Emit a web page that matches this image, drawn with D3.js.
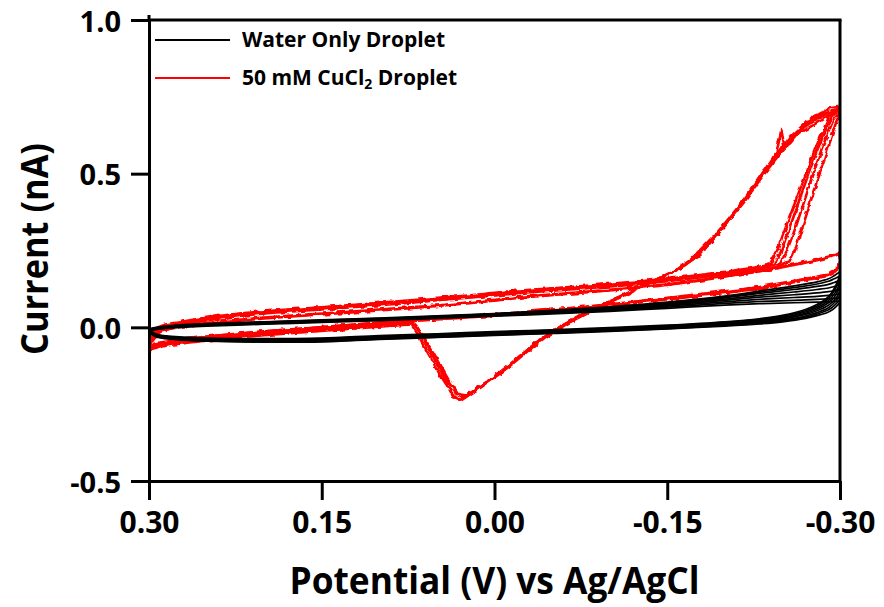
<!DOCTYPE html>
<html>
<head>
<meta charset="utf-8">
<script src="https://cdn.jsdelivr.net/npm/d3@7"></script>
<style>
  html, body { margin: 0; padding: 0; background: #fff; }
  svg { display: block; }
  text { font-family: "Open Sans", "Noto Sans", sans-serif; font-weight: 700; fill: #000; }
</style>
</head>
<body>
<svg id="chart" width="884" height="607"></svg>
<script>
// Cyclic voltammograms of a droplet: water only vs. 50 mM CuCl2.

const xTicks = [0.30, 0.15, 0.00, -0.15, -0.30];
const yTicks = [-0.5, 0.0, 0.5, 1.0];
const seriesNames = ["Water Only Droplet", "50 mM CuCl\u2082 Droplet"];

// Water only: potential sweep (V) out to -0.30 V and back
const waterForwardPotential = [0.30, 0.295, 0.285, 0.27, 0.25, 0.20, 0.15, 0.10, 0.05, 0.00, -0.05, -0.10, -0.15, -0.20, -0.23, -0.25, -0.27, -0.28, -0.29, -0.295, -0.30];
const waterReversePotential = [-0.30, -0.295, -0.29, -0.28, -0.26, -0.23, -0.20, -0.15, -0.10, -0.05, 0.00, 0.05, 0.10, 0.15, 0.20, 0.25, 0.28, 0.295, 0.30];

// Water only: current (nA) for each cycle, forward then reverse
const waterForwardCurrent = [
  [-0.006, -0.020, -0.028, -0.032, -0.035, -0.037, -0.035, -0.027, -0.021, -0.014, -0.008, -0.001, 0.007, 0.018, 0.028, 0.039, 0.058, 0.074, 0.100, 0.127, 0.175],
  [-0.008, -0.022, -0.030, -0.034, -0.037, -0.039, -0.037, -0.029, -0.023, -0.016, -0.010, -0.003, 0.005, 0.016, 0.026, 0.036, 0.054, 0.069, 0.094, 0.119, 0.162],
  [-0.010, -0.024, -0.031, -0.036, -0.039, -0.041, -0.039, -0.031, -0.025, -0.018, -0.012, -0.005, 0.003, 0.013, 0.023, 0.033, 0.050, 0.064, 0.087, 0.108, 0.148],
  [-0.011, -0.025, -0.032, -0.037, -0.040, -0.042, -0.041, -0.032, -0.026, -0.019, -0.013, -0.006, 0.002, 0.012, 0.021, 0.030, 0.046, 0.059, 0.080, 0.098, 0.135],
  [-0.012, -0.026, -0.034, -0.039, -0.042, -0.044, -0.043, -0.034, -0.028, -0.021, -0.015, -0.008, 0.000, 0.010, 0.019, 0.027, 0.042, 0.054, 0.072, 0.088, 0.120],
  [-0.013, -0.027, -0.035, -0.040, -0.043, -0.046, -0.044, -0.036, -0.030, -0.023, -0.017, -0.010, -0.002, 0.008, 0.016, 0.024, 0.037, 0.048, 0.064, 0.080, 0.105],
  [-0.014, -0.028, -0.036, -0.041, -0.044, -0.047, -0.046, -0.038, -0.032, -0.025, -0.019, -0.012, -0.004, 0.006, 0.013, 0.021, 0.033, 0.043, 0.057, 0.071, 0.092],
  [-0.015, -0.029, -0.037, -0.042, -0.045, -0.048, -0.047, -0.039, -0.033, -0.026, -0.020, -0.013, -0.005, 0.004, 0.011, 0.018, 0.029, 0.038, 0.050, 0.062, 0.082]
];
const waterReverseCurrent = [
  [0.180, 0.168, 0.158, 0.148, 0.135, 0.118, 0.102, 0.082, 0.067, 0.055, 0.045, 0.037, 0.030, 0.024, 0.018, 0.012, 0.006, -0.001, -0.006],
  [0.166, 0.158, 0.150, 0.141, 0.129, 0.114, 0.099, 0.080, 0.065, 0.054, 0.044, 0.036, 0.029, 0.023, 0.017, 0.011, 0.005, -0.002, -0.008],
  [0.152, 0.146, 0.140, 0.133, 0.123, 0.110, 0.096, 0.078, 0.063, 0.052, 0.043, 0.035, 0.028, 0.022, 0.016, 0.010, 0.004, -0.003, -0.010],
  [0.138, 0.133, 0.128, 0.123, 0.115, 0.104, 0.092, 0.075, 0.061, 0.050, 0.041, 0.034, 0.027, 0.021, 0.015, 0.009, 0.003, -0.004, -0.011],
  [0.123, 0.119, 0.116, 0.112, 0.106, 0.098, 0.088, 0.072, 0.059, 0.049, 0.040, 0.033, 0.026, 0.020, 0.014, 0.008, 0.002, -0.005, -0.012],
  [0.108, 0.106, 0.104, 0.101, 0.097, 0.091, 0.083, 0.069, 0.057, 0.047, 0.039, 0.032, 0.025, 0.019, 0.013, 0.007, 0.001, -0.006, -0.013],
  [0.095, 0.094, 0.093, 0.091, 0.088, 0.084, 0.078, 0.066, 0.055, 0.046, 0.038, 0.031, 0.024, 0.018, 0.012, 0.006, 0.000, -0.007, -0.014],
  [0.085, 0.084, 0.083, 0.082, 0.080, 0.077, 0.072, 0.062, 0.052, 0.044, 0.036, 0.029, 0.022, 0.016, 0.010, 0.004, -0.002, -0.008, -0.015]
];

// 50 mM CuCl2: [potential (V), current (nA)] for each cycle
const copperCycle1 = [
  [0.300, -0.055], [0.297, -0.025], [0.292, -0.004], [0.285, 0.006], [0.275, 0.012], [0.260, 0.022], [0.240, 0.034], [0.220, 0.043],
  [0.200, 0.049], [0.180, 0.056], [0.160, 0.060], [0.130, 0.069], [0.100, 0.077], [0.070, 0.086], [0.047, 0.094], [0.020, 0.101],
  [0.000, 0.109], [-0.022, 0.117], [-0.050, 0.124], [-0.080, 0.132], [-0.118, 0.143], [-0.150, 0.155], [-0.178, 0.166], [-0.200, 0.177],
  [-0.222, 0.188], [-0.239, 0.205], [-0.245, 0.245], [-0.252, 0.316], [-0.265, 0.446], [-0.278, 0.576], [-0.291, 0.690], [-0.298, 0.713],
  [-0.300, 0.718], [-0.298, 0.717], [-0.291, 0.713], [-0.280, 0.690], [-0.271, 0.668], [-0.256, 0.616], [-0.243, 0.550], [-0.230, 0.486],
  [-0.213, 0.398], [-0.193, 0.307], [-0.170, 0.219], [-0.158, 0.186], [-0.138, 0.151], [-0.109, 0.099], [-0.080, 0.050], [-0.057, 0.001],
  [-0.039, -0.041], [-0.022, -0.094], [-0.005, -0.146], [0.008, -0.181], [0.021, -0.214], [0.027, -0.230], [0.034, -0.210], [0.045, -0.149],
  [0.056, -0.074], [0.065, -0.015], [0.071, 0.017], [0.090, 0.012], [0.120, 0.004], [0.150, -0.004], [0.180, -0.012], [0.210, -0.020],
  [0.240, -0.030], [0.265, -0.040], [0.285, -0.048], [0.300, -0.062]
];
const copperCycle2 = [
  [0.300, -0.060], [0.297, -0.030], [0.292, -0.008], [0.285, 0.004], [0.275, 0.010], [0.260, 0.019], [0.240, 0.030], [0.220, 0.040],
  [0.200, 0.047], [0.180, 0.053], [0.160, 0.058], [0.130, 0.066], [0.100, 0.074], [0.070, 0.083], [0.047, 0.091], [0.020, 0.099],
  [0.000, 0.106], [-0.022, 0.114], [-0.050, 0.121], [-0.080, 0.129], [-0.118, 0.140], [-0.150, 0.152], [-0.178, 0.163], [-0.200, 0.174],
  [-0.222, 0.186], [-0.242, 0.204], [-0.248, 0.240], [-0.256, 0.320], [-0.268, 0.450], [-0.280, 0.575], [-0.292, 0.680], [-0.298, 0.706],
  [-0.300, 0.712], [-0.297, 0.706], [-0.290, 0.696], [-0.279, 0.676], [-0.268, 0.650], [-0.257, 0.600], [-0.252, 0.585], [-0.249, 0.642],
  [-0.245, 0.570], [-0.236, 0.520], [-0.220, 0.430], [-0.200, 0.330], [-0.178, 0.236], [-0.160, 0.190], [-0.140, 0.155], [-0.112, 0.104],
  [-0.083, 0.055], [-0.060, 0.008], [-0.041, -0.036], [-0.024, -0.088], [-0.008, -0.140], [0.006, -0.176], [0.019, -0.210], [0.030, -0.236],
  [0.037, -0.214], [0.047, -0.156], [0.058, -0.082], [0.067, -0.020], [0.073, 0.014], [0.095, 0.008], [0.125, 0.000], [0.155, -0.008],
  [0.185, -0.016], [0.215, -0.025], [0.245, -0.036], [0.270, -0.046], [0.288, -0.055], [0.300, -0.070]
];
const copperCycle3 = [
  [0.300, -0.048], [0.297, -0.020], [0.292, 0.000], [0.285, 0.010], [0.275, 0.016], [0.260, 0.026], [0.240, 0.037], [0.220, 0.046],
  [0.200, 0.052], [0.180, 0.058], [0.160, 0.063], [0.130, 0.071], [0.100, 0.080], [0.070, 0.089], [0.047, 0.097], [0.020, 0.104],
  [0.000, 0.112], [-0.022, 0.120], [-0.050, 0.127], [-0.080, 0.135], [-0.118, 0.147], [-0.150, 0.158], [-0.178, 0.170], [-0.200, 0.181],
  [-0.222, 0.192], [-0.248, 0.208], [-0.254, 0.250], [-0.262, 0.330], [-0.273, 0.456], [-0.284, 0.580], [-0.294, 0.672], [-0.299, 0.698],
  [-0.300, 0.703], [-0.296, 0.700], [-0.286, 0.680], [-0.276, 0.656], [-0.266, 0.636], [-0.260, 0.628], [-0.250, 0.585], [-0.238, 0.522],
  [-0.222, 0.440], [-0.203, 0.345], [-0.182, 0.252], [-0.164, 0.198], [-0.146, 0.163], [-0.118, 0.112], [-0.088, 0.061], [-0.064, 0.014],
  [-0.045, -0.030], [-0.028, -0.080], [-0.012, -0.130], [0.003, -0.170], [0.016, -0.204], [0.024, -0.222], [0.031, -0.218], [0.040, -0.170],
  [0.050, -0.105], [0.060, -0.040], [0.068, 0.005], [0.074, 0.020], [0.100, 0.014], [0.130, 0.006], [0.160, -0.002], [0.190, -0.010],
  [0.220, -0.019], [0.250, -0.030], [0.275, -0.041], [0.292, -0.050], [0.300, -0.058]
];
const copperCycle4 = [
  [0.300, -0.066], [0.297, -0.034], [0.292, -0.012], [0.285, 0.002], [0.275, 0.008], [0.260, 0.017], [0.240, 0.028], [0.220, 0.038],
  [0.200, 0.045], [0.180, 0.051], [0.160, 0.056], [0.130, 0.064], [0.100, 0.072], [0.070, 0.081], [0.047, 0.089], [0.020, 0.097],
  [0.000, 0.104], [-0.022, 0.112], [-0.050, 0.119], [-0.080, 0.127], [-0.118, 0.138], [-0.150, 0.150], [-0.178, 0.162], [-0.200, 0.173],
  [-0.222, 0.184], [-0.244, 0.196], [-0.256, 0.214], [-0.262, 0.262], [-0.270, 0.356], [-0.280, 0.476], [-0.290, 0.588], [-0.296, 0.660],
  [-0.300, 0.692], [-0.299, 0.700], [-0.294, 0.705], [-0.285, 0.694], [-0.275, 0.676], [-0.262, 0.630], [-0.248, 0.566], [-0.234, 0.498],
  [-0.216, 0.404], [-0.196, 0.312], [-0.174, 0.226], [-0.160, 0.190], [-0.141, 0.156], [-0.111, 0.102], [-0.082, 0.052], [-0.058, 0.004],
  [-0.040, -0.040], [-0.023, -0.092], [-0.006, -0.144], [0.009, -0.184], [0.022, -0.220], [0.029, -0.238], [0.036, -0.226], [0.044, -0.160],
  [0.054, -0.090], [0.063, -0.026], [0.069, 0.010], [0.085, 0.006], [0.115, -0.002], [0.145, -0.010], [0.175, -0.018], [0.205, -0.027],
  [0.235, -0.037], [0.262, -0.048], [0.284, -0.058], [0.300, -0.075]
];
const copperCycle5 = [
  [0.300, -0.065], [0.296, -0.030], [0.290, -0.010], [0.280, 0.000], [0.260, 0.010], [0.230, 0.022], [0.200, 0.032], [0.170, 0.040],
  [0.130, 0.050], [0.100, 0.058], [0.070, 0.066], [0.047, 0.072], [0.020, 0.082], [0.000, 0.090], [-0.022, 0.099], [-0.060, 0.110],
  [-0.118, 0.128], [-0.150, 0.140], [-0.180, 0.155], [-0.210, 0.172], [-0.240, 0.190], [-0.260, 0.205], [-0.280, 0.220], [-0.295, 0.235],
  [-0.300, 0.245], [-0.300, 0.225], [-0.298, 0.190], [-0.290, 0.172], [-0.270, 0.158], [-0.230, 0.131], [-0.200, 0.117], [-0.160, 0.100],
  [-0.120, 0.083], [-0.080, 0.068], [-0.040, 0.055], [0.000, 0.042], [0.040, 0.032], [0.080, 0.022], [0.120, 0.010], [0.160, -0.002],
  [0.200, -0.014], [0.240, -0.027], [0.270, -0.040], [0.290, -0.052], [0.300, -0.068]
];
const copperCycle6 = [
  [0.300, -0.070], [0.296, -0.036], [0.290, -0.014], [0.280, -0.003], [0.260, 0.008], [0.230, 0.019], [0.200, 0.029], [0.170, 0.037],
  [0.130, 0.047], [0.100, 0.055], [0.070, 0.063], [0.047, 0.070], [0.020, 0.079], [0.000, 0.087], [-0.022, 0.096], [-0.060, 0.108],
  [-0.118, 0.126], [-0.150, 0.138], [-0.180, 0.153], [-0.210, 0.170], [-0.240, 0.188], [-0.260, 0.203], [-0.280, 0.218], [-0.295, 0.232],
  [-0.300, 0.240], [-0.300, 0.215], [-0.297, 0.182], [-0.288, 0.166], [-0.268, 0.152], [-0.230, 0.126], [-0.200, 0.112], [-0.160, 0.095],
  [-0.120, 0.079], [-0.080, 0.064], [-0.040, 0.051], [0.000, 0.038], [0.040, 0.028], [0.080, 0.018], [0.120, 0.006], [0.160, -0.006],
  [0.200, -0.018], [0.240, -0.031], [0.270, -0.044], [0.290, -0.058], [0.300, -0.074]
];
const copperCycles = [copperCycle1, copperCycle2, copperCycle3, copperCycle4, copperCycle5, copperCycle6];

const colors = ["#000000", "#ff0000"];

const svg = d3.select("#chart");
const plot = { left: 149, right: 840, top: 20, bottom: 481 };

const x = d3.scaleLinear().domain([0.30, -0.30]).range([plot.left, plot.right]);
const y = d3.scaleLinear().domain([-0.5, 1.0]).range([plot.bottom, plot.top]);

// Jitter for the noisy copper traces
const defs = svg.append("defs");
const jitter = defs.append("filter").attr("id", "jitter")
  .attr("filterUnits", "userSpaceOnUse")
  .attr("x", 0).attr("y", 0).attr("width", 884).attr("height", 607);
jitter.append("feTurbulence").attr("type", "fractalNoise")
  .attr("baseFrequency", 0.15).attr("numOctaves", 2).attr("seed", 7).attr("result", "noise");
jitter.append("feDisplacementMap").attr("in", "SourceGraphic").attr("in2", "noise")
  .attr("scale", 4.5).attr("xChannelSelector", "R").attr("yChannelSelector", "G");

defs.append("clipPath").attr("id", "plotClip").append("rect")
  .attr("x", plot.left).attr("y", plot.top)
  .attr("width", plot.right - plot.left).attr("height", plot.bottom - plot.top);

const line = d3.line().x(d => x(d[0])).y(d => y(d[1]));

const traces = svg.append("g").attr("clip-path", "url(#plotClip)");

// CuCl2 cycles
traces.append("g").attr("filter", "url(#jitter)")
  .selectAll("path").data(copperCycles).join("path")
  .attr("d", line.curve(d3.curveLinear))
  .attr("fill", "none")
  .attr("stroke", colors[1])
  .attr("stroke-width", 2.6)
  .attr("stroke-linejoin", "round");

// Water-only cycles
const waterCycles = waterForwardCurrent.map((fwd, i) =>
  waterForwardPotential.map((v, j) => [v, fwd[j]])
    .concat(waterReversePotential.map((v, j) => [v, waterReverseCurrent[i][j]])));

traces.append("g")
  .selectAll("path").data(waterCycles).join("path")
  .attr("d", line.curve(d3.curveCatmullRom.alpha(0.5)))
  .attr("fill", "none")
  .attr("stroke", colors[0])
  .attr("stroke-width", 1.7)
  .attr("stroke-linejoin", "round");

// Axes
const axisStroke = 3;
const xAxis = d3.axisBottom(x).tickValues(xTicks).tickFormat(d => d.toFixed(2))
  .tickSize(19).tickSizeOuter(0).tickPadding(12);
const yAxis = d3.axisLeft(y).tickValues(yTicks).tickFormat(d => d.toFixed(1))
  .tickSize(18).tickSizeOuter(0).tickPadding(10);

const gx = svg.append("g").attr("transform", `translate(0,${plot.bottom})`).call(xAxis);
const gy = svg.append("g").attr("transform", `translate(${plot.left},0)`).call(yAxis);

[gx, gy].forEach(g => {
  g.selectAll("path.domain").attr("stroke", "#000").attr("stroke-width", axisStroke);
  g.selectAll(".tick line").attr("stroke", "#000").attr("stroke-width", axisStroke);
  g.selectAll(".tick text")
    .style("font-family", "'Open Sans', sans-serif")
    .style("font-weight", 700)
    .attr("fill", "#000");
});
gx.selectAll(".tick text").style("font-size", "30px");
gy.selectAll(".tick text").style("font-size", "29px").attr("dy", "0.38em");

// Frame: top and right edges, y axis running slightly past the top
svg.append("line").attr("x1", plot.left).attr("x2", plot.right + 1.5)
  .attr("y1", plot.top).attr("y2", plot.top)
  .attr("stroke", "#000").attr("stroke-width", axisStroke);
svg.append("line").attr("x1", plot.right).attr("x2", plot.right)
  .attr("y1", plot.top).attr("y2", plot.bottom)
  .attr("stroke", "#000").attr("stroke-width", axisStroke);
svg.append("line").attr("x1", plot.left).attr("x2", plot.left)
  .attr("y1", plot.top - 5).attr("y2", plot.top)
  .attr("stroke", "#000").attr("stroke-width", axisStroke);

// Axis titles
svg.append("text")
  .attr("x", (plot.left + plot.right) / 2)
  .attr("y", 594)
  .attr("text-anchor", "middle")
  .attr("textLength", 410)
  .attr("lengthAdjust", "spacingAndGlyphs")
  .style("font-size", "37px")
  .text("Potential (V) vs Ag/AgCl");

svg.append("text")
  .attr("transform", "translate(48,249) rotate(-90)")
  .attr("text-anchor", "middle")
  .attr("textLength", 212)
  .attr("lengthAdjust", "spacingAndGlyphs")
  .style("font-size", "37px")
  .text("Current (nA)");

// Legend
const legend = svg.append("g");
const legendRows = [
  { color: colors[0], y: 40 },
  { color: colors[1], y: 78 }
];
legendRows.forEach(r => {
  legend.append("line")
    .attr("x1", 155).attr("x2", 230).attr("y1", r.y).attr("y2", r.y)
    .attr("stroke", r.color).attr("stroke-width", 2);
});
legend.append("text").attr("x", 242).attr("y", 47)
  .style("font-size", "21px").text(seriesNames[0]);
const t2 = legend.append("text").attr("x", 242).attr("y", 85).style("font-size", "21px");
t2.append("tspan").text("50 mM CuCl");
t2.append("tspan").attr("dy", 4).style("font-size", "14px").text("2");
t2.append("tspan").attr("dy", -4).text(" Droplet");
</script>
</body>
</html>
